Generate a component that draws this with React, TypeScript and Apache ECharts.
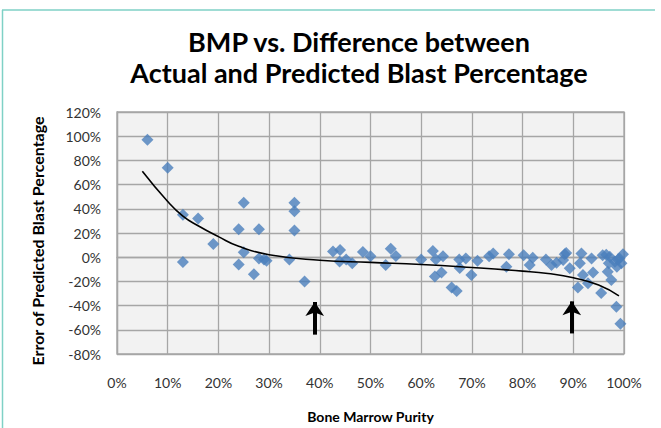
import React, { useEffect, useRef } from "react";
import * as echarts from "echarts";

const titleLines = ["BMP vs. Difference between", "Actual and Predicted Blast Percentage"];
const xAxisName = "Bone Marrow Purity";
const yAxisName = "Error of Predicted Blast Percentage";

// Bone marrow purity (%) for each sample
const purity = [
  6, 10, 13, 16, 13, 19, 25, 24, 28, 25, 24, 27, 28, 29.5, 29, 35, 35, 35, 34, 37,
  42.6, 44, 43.9, 45.2, 46.4, 48.5, 50, 53, 54, 55, 60, 62.3, 62.9, 62.7, 64.3, 64,
  66, 67, 67.5, 67.6, 68.8, 69.9, 71.1, 73.4, 74.2, 76.8, 77.3, 80.2, 81.4, 82,
  84.6, 85.7, 86.7, 88.3, 88, 89.3, 91.6, 91.3, 90.9, 91.9, 92.9, 93.6, 93.9, 95.8,
  95.5, 97.2, 96.8, 97.5, 98.2, 99.1, 99.8, 98.6, 98.5, 99.3, 96.5, 98.8, 99.5, 97, 88.6,
];
// Error of predicted blast percentage (%) for each sample
const errorPct = [
  97, 74, 35, 32, -4, 11, 45, 23, 23, 4, -6, -14, -1, -3, -2, 45, 38, 22, -2, -20,
  4.8, 6, -3.5, -2, -5, 4.4, 0.8, -6.5, 7, 1, -2, 5.2, -1.9, -16, 0.8, -12.7,
  -25, -28, -2, -9, -1, -14.7, -3, 0.8, 3, -7.8, 2.4, 1.6, -6.5, -0.5,
  -2, -6.5, -4.6, 2.4, -2.4, -9.2, 3, -5, -25, -14.7, -21.5, -1, -12.7, 1.6,
  -29.6, 0.3, -12, -18.8, -3.8, -1, 2.5, -7.8, -41, -55, 2, -2, -5, -5, 3.5,
];

// Trend line
const trendX = [5, 10, 13, 16, 20, 24, 30, 40, 50, 60, 70, 80, 85, 90, 95, 99];
const trendY = [71, 46, 34, 26, 17, 9, 2, -2.5, -4.3, -6, -8.5, -11.5, -13.5, -17, -23, -32];

// Arrows: [x, yStart, yEnd]
const arrows = [
  [39, -64, -37],
  [89.7, -63, -36.5],
];

export default function App() {
  const ref = useRef<HTMLDivElement>(null);
  useEffect(() => {
    if (!ref.current) return;
    const chart = echarts.init(ref.current, null, { renderer: "svg" });
    const scatterData = purity.map((x, i) => [x, errorPct[i]]);
    const trendData = trendX.map((x, i) => [x, trendY[i]]);
    const gridColor = "#a6a6a6";
    chart.setOption({
      animation: false,
      backgroundColor: "#ffffff",
      title: {
        text: titleLines.join("\n"),
        left: 354,
        textAlign: "center",
        top: 21,
        textStyle: {
          fontFamily: "Lato",
          fontWeight: "bold",
          fontSize: 27,
          lineHeight: 31,
          color: "#000000",
        },
      },
      graphic: [
        { type: "line", shape: { x1: 2, y1: 10, x2: 655, y2: 10 }, style: { stroke: "#7fd1c6", lineWidth: 1.5 } },
        { type: "line", shape: { x1: 2.5, y1: 10, x2: 2.5, y2: 428 }, style: { stroke: "#7fd1c6", lineWidth: 1.5 } },
        {
          type: "text",
          x: 37,
          y: 241,
          rotation: Math.PI / 2,
          style: {
            text: yAxisName,
            align: "center",
            verticalAlign: "middle",
            fontFamily: "Lato",
            fontWeight: "bold",
            fontSize: 16,
            fill: "#000000",
          },
        },
      ],
      grid: {
        left: 117,
        top: 112,
        width: 507,
        height: 245,
        show: true,
        backgroundColor: "#f2f2f2",
        borderColor: gridColor,
        borderWidth: 1.3,
      },
      xAxis: {
        type: "value",
        min: 0,
        max: 100,
        interval: 10,
        name: xAxisName,
        nameLocation: "middle",
        nameGap: 55,
        nameTextStyle: { fontFamily: "Lato", fontWeight: "bold", fontSize: 14, color: "#000" },
        axisLine: { show: true, lineStyle: { color: gridColor, width: 1.3 } },
        axisTick: { show: false },
        axisLabel: {
          formatter: "{value}%",
          margin: 21,
          fontFamily: "Lato",
          fontSize: 14,
          color: "#333333",
        },
        splitLine: { show: true, lineStyle: { color: gridColor, width: 1.3 } },
      },
      yAxis: {
        type: "value",
        min: -80,
        max: 120,
        interval: 20,
        axisLine: { show: true, lineStyle: { color: gridColor, width: 1.3 } },
        axisTick: { show: false },
        axisLabel: {
          formatter: "{value}%",
          margin: 16,
          fontFamily: "Lato",
          fontSize: 14,
          color: "#333333",
        },
        splitLine: { show: true, lineStyle: { color: gridColor, width: 1.3 } },
      },
      series: [
        {
          type: "scatter",
          data: scatterData,
          symbol: "diamond",
          symbolSize: 12,
          itemStyle: { color: "#4a7ebb" },
          z: 3,
        },
        {
          type: "line",
          data: trendData,
          smooth: true,
          showSymbol: false,
          lineStyle: { color: "#000000", width: 1.6 },
          itemStyle: { color: "#000000" },
          z: 4,
          markLine: {
            silent: true,
            symbol: ["none", "arrow"],
            symbolSize: [14, 14],
            label: { show: false },
            lineStyle: { color: "#000000", width: 4, type: "solid" },
            data: arrows.map((a) => [
              { coord: [a[0], a[1]] },
              { coord: [a[0], a[2]] },
            ]),
          },
        },
      ],
    });
    return () => chart.dispose();
  }, []);
  return (
    <div
      ref={ref}
      style={{ position: "absolute", left: 0, top: 0, width: 661, height: 428 }}
    />
  );
}
